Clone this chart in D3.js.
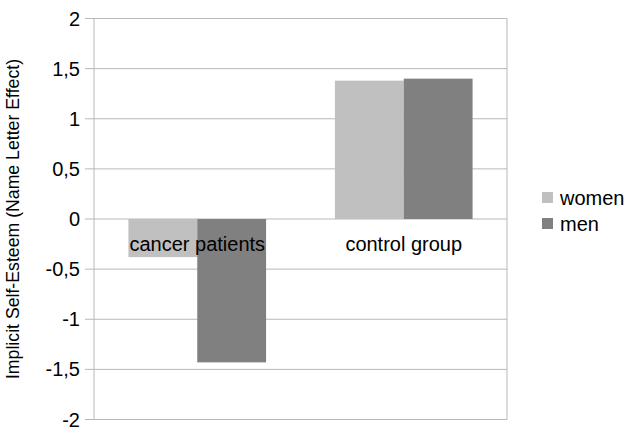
<!DOCTYPE html>
<html><head><meta charset="utf-8">
<script src="https://cdn.jsdelivr.net/npm/d3@7"></script>
<style>body{margin:0;background:#fff;} svg{display:block;font-family:"Liberation Sans",Arial,sans-serif;}</style>
</head><body>
<svg id="c" width="625" height="427"></svg>
<script>
const categories = ["cancer patients", "control group"];
const seriesNames = ["women", "men"];
const women = [-0.38, 1.38];
const men = [-1.43, 1.40];
const yTicks = [-2, -1.5, -1, -0.5, 0, 0.5, 1, 1.5, 2];
const colors = ["#c0c0c0", "#808080"];
const yTitle = "Implicit Self-Esteem (Name Letter Effect)";

const seriesValues = [women, men];
const svg = d3.select("#c");
const L = 94, R = 507, T = 18.5, B = 419.5;
const x = d3.scaleBand().domain(categories).range([L, R]);
const xs = d3.scaleBand().domain(seriesNames).range([0, x.bandwidth()]).paddingInner(0).paddingOuter(0.5);
const y = d3.scaleLinear().domain([-2, 2]).range([B, T]);
const loc = d3.formatLocale({decimal: ",", thousands: ".", grouping: [3], currency: ["", ""], minus: "-"});
const fmt = loc.format("");

// gridlines
svg.append("g").selectAll("line").data(yTicks).join("line")
  .attr("x1", L - 9).attr("x2", R)
  .attr("y1", d => y(d)).attr("y2", d => y(d))
  .attr("stroke", "#b8b8b8").attr("stroke-width", 1);

// bars
const rows = [];
categories.forEach((c, i) => seriesNames.forEach((s, j) => rows.push({c, s, v: seriesValues[j][i], j})));
svg.append("g").selectAll("rect").data(rows).join("rect")
  .attr("x", d => x(d.c) + xs(d.s))
  .attr("width", xs.bandwidth())
  .attr("y", d => y(Math.max(0, d.v)))
  .attr("height", d => Math.abs(y(d.v) - y(0)))
  .attr("fill", d => colors[d.j]);

// axis lines (left and right border)
svg.append("line").attr("x1", L).attr("x2", L).attr("y1", T).attr("y2", B).attr("stroke", "#b8b8b8");
svg.append("line").attr("x1", R).attr("x2", R).attr("y1", T).attr("y2", B).attr("stroke", "#b8b8b8");

// y tick labels
svg.append("g").selectAll("text").data(yTicks).join("text")
  .attr("x", 80).attr("y", d => y(d)).attr("dy", "0.35em")
  .attr("text-anchor", "end").attr("font-size", 20).attr("fill", "#000")
  .text(d => fmt(d));

// category labels
svg.append("g").selectAll("text").data(categories).join("text")
  .attr("x", d => x(d) + x.bandwidth() / 2).attr("y", 251)
  .attr("text-anchor", "middle").attr("font-size", 20).attr("fill", "#000")
  .text(d => d);

// y title
svg.append("text")
  .attr("transform", `translate(19,${(T + B) / 2}) rotate(-90)`)
  .attr("text-anchor", "middle").attr("font-size", 17.7).attr("fill", "#000")
  .text(yTitle);

// legend
const lg = svg.append("g").selectAll("g").data(seriesNames).join("g")
  .attr("transform", (d, i) => `translate(542,${192 + i * 26})`);
lg.append("rect").attr("width", 11).attr("height", 11).attr("fill", (d, i) => colors[i]);
lg.append("text").attr("x", 18).attr("y", 13).attr("font-size", 20).attr("fill", "#000").text(d => d);
</script>
</body></html>
